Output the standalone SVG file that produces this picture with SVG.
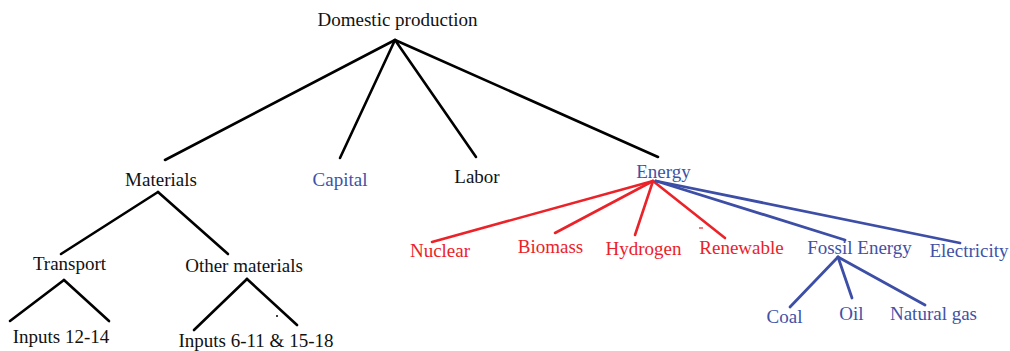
<svg xmlns="http://www.w3.org/2000/svg" width="1010" height="351" viewBox="0 0 1010 351">
<style>
text{font-family:'Liberation Serif','Tinos','Times New Roman','DejaVu Serif',serif;font-size:19px;text-anchor:middle}
.k{fill:#111}
.b{fill:#3F52A6}
.r{fill:#EC2229}
.lk{stroke:#000;stroke-width:2.6;fill:none;stroke-linecap:round}
.lb{stroke:#3D4EA6;stroke-width:2.8;fill:none;stroke-linecap:round}
.lr{stroke:#EC2229;stroke-width:2.6;fill:none;stroke-linecap:round}
</style>
<rect width="1010" height="351" fill="#fff"/>
<g id="connectors">
<line class="lk" x1="395" y1="40" x2="165" y2="160"/>
<line class="lk" x1="395" y1="40" x2="340" y2="158"/>
<line class="lk" x1="395" y1="40" x2="476" y2="157"/>
<line class="lk" x1="395" y1="40" x2="658" y2="157"/>
<line class="lk" x1="158" y1="192" x2="61" y2="254"/>
<line class="lk" x1="158" y1="192" x2="228" y2="254"/>
<line class="lk" x1="64" y1="280" x2="10" y2="321"/>
<line class="lk" x1="64" y1="280" x2="109" y2="321"/>
<line class="lk" x1="247" y1="279" x2="194" y2="330"/>
<line class="lk" x1="247" y1="279" x2="297" y2="325"/>
<line class="lr" x1="653" y1="181" x2="432" y2="242"/>
<line class="lr" x1="653" y1="181" x2="555" y2="233"/>
<line class="lr" x1="653" y1="181" x2="635" y2="235"/>
<line class="lr" x1="653" y1="181" x2="725" y2="238"/>
<line class="lb" x1="656" y1="181" x2="845" y2="240"/>
<line class="lb" x1="656" y1="181" x2="960" y2="243"/>
<line class="lb" x1="838" y1="257" x2="790" y2="307"/>
<line class="lb" x1="838" y1="257" x2="852" y2="298"/>
<line class="lb" x1="838" y1="257" x2="925" y2="305"/>
<line stroke="#EC2229" stroke-width="1.2" x1="699" y1="228" x2="703" y2="228"/>
<circle cx="277" cy="316" r="1" fill="#000"/>
</g>
<g id="domestic"><text class="k" x="397.5" y="26" font-family="Liberation Serif">Domestic production</text></g>
<g id="materials"><text class="k" x="161" y="186">Materials</text></g>
<g id="capital"><text class="b" x="340" y="186">Capital</text></g>
<g id="labor"><text class="k" x="477" y="183">Labor</text></g>
<g id="energy"><text class="b" x="663.5" y="178">Energy</text></g>
<g id="transport"><text class="k" x="69.5" y="270">Transport</text></g>
<g id="other"><text class="k" x="244" y="272">Other materials</text></g>
<g id="inputs1214"><text class="k" x="61" y="343">Inputs 12-14</text></g>
<g id="inputs611"><text class="k" x="256" y="347">Inputs 6-11 &amp; 15-18</text></g>
<g id="nuclear"><text class="r" x="440" y="257">Nuclear</text></g>
<g id="biomass"><text class="r" x="550.5" y="253">Biomass</text></g>
<g id="hydrogen"><text class="r" x="643.5" y="255">Hydrogen</text></g>
<g id="renewable"><text class="r" x="741.5" y="254">Renewable</text></g>
<g id="fossil"><text class="b" x="859.5" y="254">Fossil Energy</text></g>
<g id="electricity"><text class="b" x="969" y="257">Electricity</text></g>
<g id="coal"><text class="b" x="784.5" y="323">Coal</text></g>
<g id="oil"><text class="b" x="851.5" y="320">Oil</text></g>
<g id="naturalgas"><text class="b" x="933.5" y="320">Natural gas</text></g>
</svg>
